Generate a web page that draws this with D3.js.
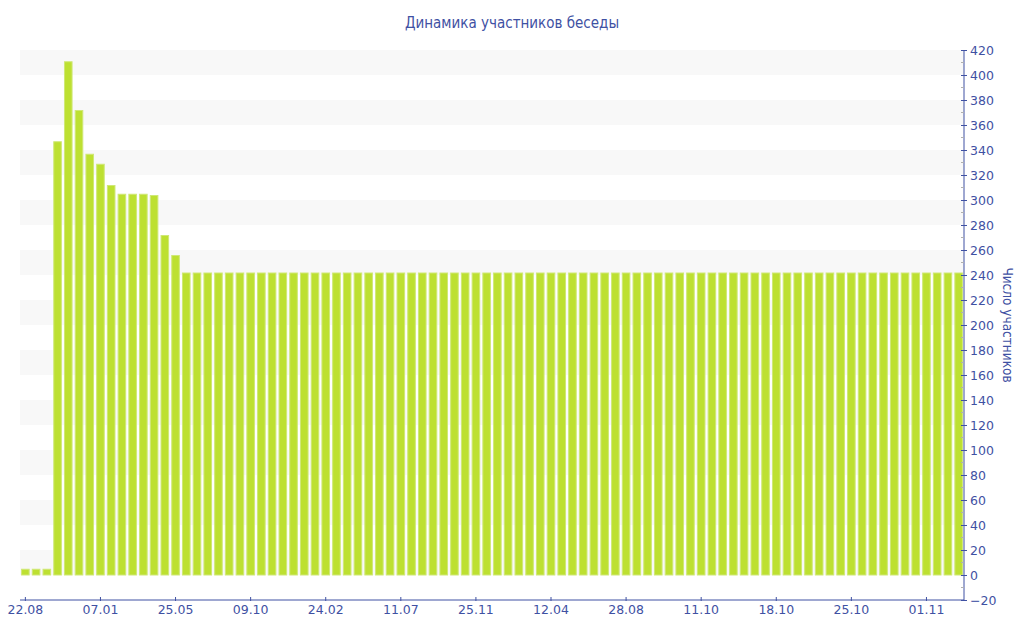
<!DOCTYPE html>
<html><head><meta charset="utf-8">
<script src="https://cdn.jsdelivr.net/npm/d3@7"></script>
<style>body{margin:0;background:#fff}svg{display:block}</style>
</head><body>
<svg id="chart" width="1024" height="640"></svg>
<script>
const title = "Динамика участников беседы";
const yTitle = "Число участников";
// 88 bars; value per bar
const headValues = [5, 5, 5, 347, 411, 372, 337, 329, 312, 305, 305, 305, 304, 272, 256];
const tailValue = 242;
const tailCount = 73;
const values = headValues.concat(Array.from({length: tailCount}, () => tailValue));
const categories = values.map((d, i) => i);
// tick labels placed on every 7th bar
const tickLabels = ["22.08","07.01","25.05","09.10","24.02","11.07","25.11","12.04","28.08","11.10","18.10","25.10","01.11"];
const tickEvery = 7;
const yTicks = d3.range(-20, 421, 20);

(function () {
const svg = d3.select("#chart");
const mLeft = 20, mRight = 964, mTop = 50, mBottom = 600;
const x = d3.scaleBand().domain(categories).range([mLeft, mRight]).paddingInner(0.2).paddingOuter(0.1);
const y = d3.scaleLinear().domain([-20, 420]).range([mBottom, mTop]);
const axisColor = "#3f51a3", textColor = "#3f51a3";
const font = "DejaVu Sans, Verdana, sans-serif";
const fontC = "DejaVu Sans Condensed, DejaVu Sans, sans-serif";

// stripes
for (let v = 0; v < 420; v += 40) {
  svg.append("rect").attr("x", mLeft).attr("y", y(v + 20)).attr("width", mRight - mLeft)
    .attr("height", y(v) - y(v + 20)).attr("fill", "#f8f8f8");
}

// bars
svg.append("g").selectAll("rect").data(values).join("rect")
  .attr("x", (d, i) => x(i) + 0.5).attr("y", d => y(d) + 0.5)
  .attr("width", x.bandwidth() - 1).attr("height", d => y(0) - y(d) - 0.5)
  .attr("fill", "#bde031").attr("stroke", "#cfe876").attr("stroke-width", 1);

// y axis (right)
const yAxis = svg.append("g").attr("transform", `translate(${mRight},0)`)
  .call(d3.axisRight(y).tickValues(yTicks).tickSize(4).tickPadding(2));
yAxis.select(".domain").attr("stroke", axisColor).attr("d", `M0,${mTop}V${mBottom}`);
yAxis.selectAll(".tick line").attr("stroke", axisColor).attr("x1", -3).attr("x2", 3);
yAxis.selectAll("text").attr("fill", textColor).attr("font-family", font).attr("font-size", 12.5);
// minor ticks
svg.append("g").selectAll("line").data(d3.range(-10, 420, 20)).join("line")
  .attr("x1", mRight - 3).attr("x2", mRight).attr("y1", d => y(d)).attr("y2", d => y(d))
  .attr("stroke", "#b0b0b0");

// x axis
const xAxis = svg.append("g").attr("transform", `translate(0,${mBottom})`)
  .call(d3.axisBottom(x).tickValues(categories.filter(i => i % tickEvery === 0))
    .tickFormat(i => tickLabels[i / tickEvery]).tickSize(2).tickPadding(3));
xAxis.select(".domain").attr("stroke", axisColor).attr("d", `M${mLeft},0H${mRight}`);
xAxis.selectAll(".tick line").attr("stroke", axisColor).attr("y1", -3).attr("y2", 1);
xAxis.selectAll("text").attr("fill", textColor).attr("font-family", font).attr("font-size", 12.5);

// title
svg.append("text").attr("x", 512).attr("y", 28).attr("text-anchor", "middle")
  .attr("fill", textColor).attr("font-family", fontC).attr("font-size", 15).text(title);
// y title
svg.append("text").attr("transform", `translate(1003,325) rotate(90)`).attr("text-anchor", "middle")
  .attr("fill", textColor).attr("font-family", fontC).attr("font-size", 13.5).text(yTitle);
})();
</script>
</body></html>
